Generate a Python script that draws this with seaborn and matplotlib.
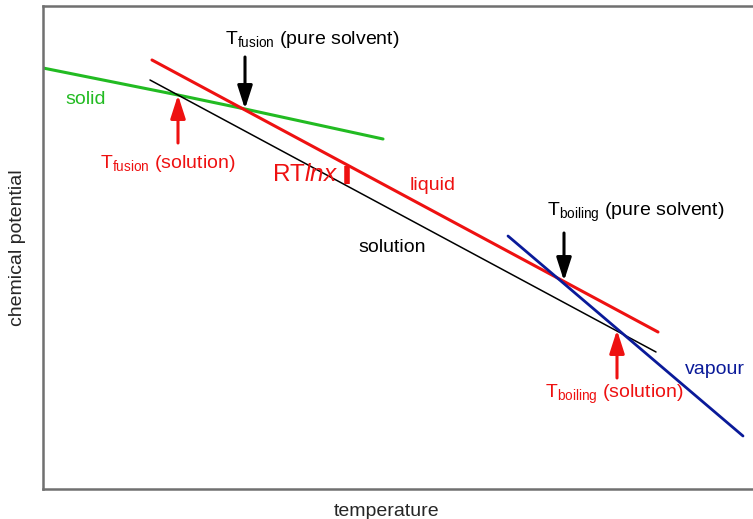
import matplotlib
matplotlib.use("Agg")
import matplotlib.pyplot as plt
import seaborn as sns
import pandas as pd

# Data (temperature, chemical potential) in arbitrary units
solid_T = [0, 135, 202, 340]
solid_mu = [421, 394, 380, 350]
liquid_T = [109, 615]
liquid_mu = [429, 157]
solution_T = [107, 613]
solution_mu = [409, 137]
vapour_T = [465, 700]
vapour_mu = [253, 53]

fus_pure = (202, 380)
fus_sol = (135, 394)
boil_pure = (521, 208)
boil_sol = (574, 159)

sns.set_style("white")
plt.rcParams['font.family'] = ['Liberation Sans', 'DejaVu Sans']
plt.rcParams['mathtext.fontset'] = 'custom'
plt.rcParams['mathtext.rm'] = 'Liberation Sans'
plt.rcParams['mathtext.it'] = 'Liberation Sans:italic'

fig = plt.figure(figsize=(7.53, 5.19), dpi=100)
W, H = 753, 519
ax = fig.add_axes([43 / W, (H - 489) / H, 720 / W, (489 - 6) / H])
ax.set_xlim(0, 720)
ax.set_ylim(0, 483)

def line(T, mu, color, lw):
    df = pd.DataFrame({"T": T, "mu": mu})
    sns.lineplot(data=df, x="T", y="mu", color=color, lw=lw, ax=ax, sort=False)

line(solid_T, solid_mu, "#22bb22", 2.2)
line(solution_T, solution_mu, "black", 1.1)
line(liquid_T, liquid_mu, "#ee1111", 2.2)
line(vapour_T, vapour_mu, "#0a1a99", 2.0)

def arrow(pt, dy, color):
    ax.annotate("", xy=pt, xytext=(pt[0], pt[1] + dy),
                arrowprops=dict(arrowstyle="-|>,head_length=1.4,head_width=0.45",
                                color=color, lw=2.2, shrinkA=0, shrinkB=0))

arrow(fus_pure, 52, "black")
arrow(fus_sol, -48, "#ee1111")
arrow(boil_pure, 48, "black")
arrow(boil_sol, -48, "#ee1111")

# RT ln x bar
ax.plot([304, 304], [305, 323], color="#ee1111", lw=4, solid_capstyle="butt")

fs = 14
ax.text(269, 450, r"T$_{\mathrm{fusion}}$ (pure solvent)", fontsize=fs, ha="center", va="center", color="black")
ax.text(22, 389, "solid", fontsize=fs, ha="left", va="center", color="#22bb22")
ax.text(57, 326, r"T$_{\mathrm{fusion}}$ (solution)", fontsize=fs, ha="left", va="center", color="#ee1111")
ax.text(229, 314, r"RT$\mathit{ln}$$\mathit{x}$", fontsize=17.5, ha="left", va="center", color="#ee1111")
ax.text(367, 303, "liquid", fontsize=fs, ha="left", va="center", color="#ee1111")
ax.text(315, 241, "solution", fontsize=fs, ha="left", va="center", color="black")
ax.text(504, 277, r"T$_{\mathrm{boiling}}$ (pure solvent)", fontsize=fs, ha="left", va="center", color="black")
ax.text(642, 119, "vapour", fontsize=fs, ha="left", va="center", color="#0a1a99")
ax.text(502, 95, r"T$_{\mathrm{boiling}}$ (solution)", fontsize=fs, ha="left", va="center", color="#ee1111")

ax.set_xticks([])
ax.set_yticks([])
ax.set_xlabel("temperature", fontsize=14)
ax.xaxis.set_label_coords((387 - 43) / 720, -0.028)
ax.set_ylabel("chemical potential", fontsize=14, labelpad=12)
for s in ax.spines.values():
    s.set_color("#707070")
    s.set_linewidth(1.8)
ax.spines["right"].set_visible(False)

fig.savefig("out.png", dpi=100)
